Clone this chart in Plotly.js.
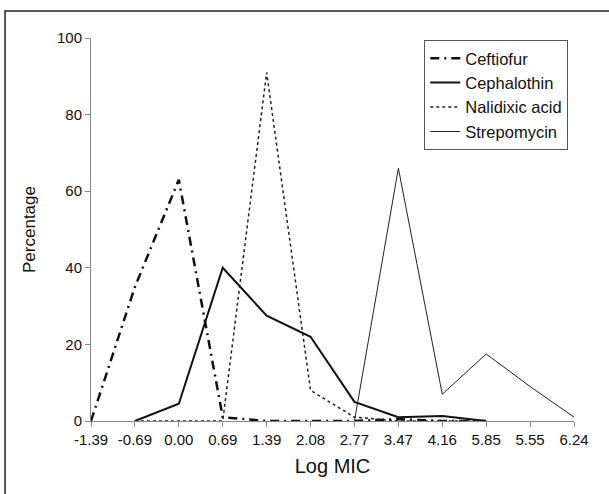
<!DOCTYPE html>
<html>
<head>
<meta charset="utf-8">
<script src="https://cdn.plot.ly/plotly-3.0.1.min.js"></script>
<style>html,body{margin:0;padding:0;background:#fff;}#chart{width:609px;height:494px;}</style>
</head>
<body>
<div id="chart"></div>
<script>
var categories = ["-1.39", "-0.69", "0.00", "0.69", "1.39", "2.08", "2.77", "3.47", "4.16", "5.85", "5.55", "6.24"];
var ceftiofur    = [0, 35, 63, 1, 0, 0, 0, 0.5, 0, 0, null, null];
var cephalothin  = [null, 0, 4.5, 40, 27.5, 22, 5, 1, 1.3, 0, null, null];
var nalidixic    = [null, 0, 0, 0, 91, 8, 1, 0, 0, 0, null, null];
var streptomycin = [null, null, null, null, null, null, 0, 66, 7, 17.5, 9, 1];
var seriesNames = ["Ceftiofur", "Cephalothin", "Nalidixic acid", "Strepomycin"];
var yTicks = [0, 20, 40, 60, 80, 100];

var FONT = "Liberation Sans, Arial, sans-serif";
function tr(y, name, line) {
  return {x: categories, y: y, name: name, type: "scatter", mode: "lines",
          line: line, connectgaps: false};
}
var data = [
  tr(ceftiofur, seriesNames[0], {color: "#111", width: 2.5, dash: "9px,5px,2px,5px"}),
  tr(cephalothin, seriesNames[1], {color: "#111", width: 2}),
  tr(nalidixic, seriesNames[2], {color: "#222", width: 1.5, dash: "dot"}),
  tr(streptomycin, seriesNames[3], {color: "#222", width: 1})
];
var layout = {
  width: 609, height: 494,
  margin: {l: 91, r: 35, t: 38, b: 73},
  paper_bgcolor: "#fff", plot_bgcolor: "#fff",
  font: {family: FONT, color: "#111", size: 14},
  showlegend: true,
  legend: {x: 0.69, y: 0.995, xanchor: "left", yanchor: "top",
           bordercolor: "#555", borderwidth: 1, bgcolor: "#fff",
           font: {family: FONT, size: 16.5, color: "#111"}},
  xaxis: {type: "category", categoryorder: "array", categoryarray: categories,
          range: [0, 11], showgrid: false, zeroline: false,
          showline: true, linecolor: "#888", linewidth: 1,
          ticks: "outside", ticklen: 5, tickcolor: "#888",
          tickfont: {family: FONT, size: 15, color: "#111"},
          title: {text: "Log MIC", font: {family: FONT, size: 20, color: "#111"}, standoff: 11}},
  yaxis: {range: [0, 100], tickvals: yTicks, showgrid: false, zeroline: false,
          showline: true, linecolor: "#888", linewidth: 1,
          ticks: "outside", ticklen: 5, tickcolor: "#888",
          tickfont: {family: FONT, size: 15, color: "#111"},
          title: {text: "Percentage", font: {family: FONT, size: 17, color: "#111"}, standoff: 17}},
  shapes: [{type: "rect", xref: "paper", yref: "paper",
            x0: -0.178, x1: 1.08, y0: -0.2, y1: 1.0705,
            line: {color: "#222", width: 1.5}}]
};
Plotly.newPlot("chart", data, layout, {displayModeBar: false, staticPlot: true});
</script>
</body>
</html>
